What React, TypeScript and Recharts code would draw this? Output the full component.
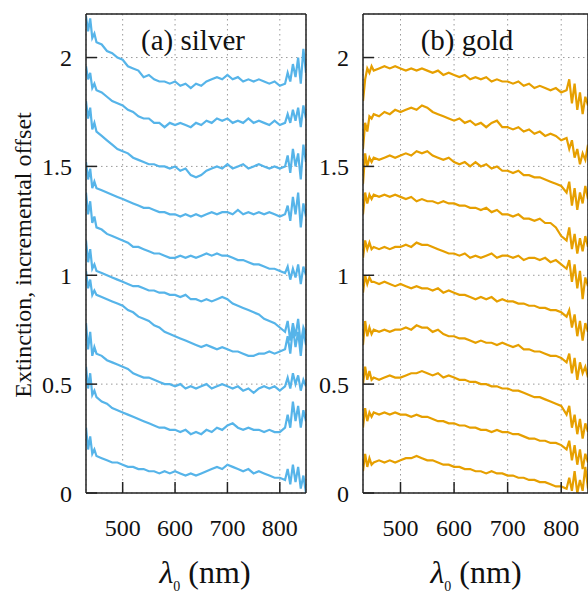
import React from "react";
import { LineChart, Line, XAxis, YAxis, CartesianGrid } from "recharts";

// wavelength samples (nm), denser at the noisy ends of the spectra
const wavelengths = [
  430, 434, 438, 442, 446, 450, 460, 470, 480, 490, 500, 510, 520, 530, 540,
  550, 560, 570, 580, 590, 600, 610, 620, 630, 640, 650, 660, 670, 680, 690,
  700, 710, 720, 730, 740, 750, 760, 770, 780, 790, 800, 810, 815, 820, 825,
  830, 835, 840, 845, 850,
];

const xTicks = [500, 600, 700, 800];
const yTicks = [0, 0.5, 1, 1.5, 2];

// (a) silver, bottom to top
const silver1 = [0.30,0.20,0.26,0.18,0.20, 0.17,0.16,0.15,0.14,0.14, 0.13,0.12,0.12,0.11,0.11, 0.10,0.10,0.09,0.10,0.09, 0.10,0.09,0.08,0.09,0.08, 0.09,0.10,0.11,0.12,0.11, 0.13,0.12,0.11,0.10,0.11, 0.09,0.10,0.09,0.08,0.07, 0.07,0.06, 0.11,0.04,0.13,0.05,0.12,0.02,0.08,0.00];
const silver2 = [0.58,0.48,0.55,0.45,0.47, 0.44,0.42,0.41,0.39,0.38, 0.37,0.36,0.35,0.34,0.33, 0.32,0.31,0.30,0.30,0.29, 0.29,0.28,0.29,0.27,0.28, 0.27,0.29,0.28,0.30,0.29, 0.31,0.32,0.30,0.29,0.30, 0.29,0.29,0.28,0.29,0.28, 0.28,0.30, 0.36,0.30,0.42,0.33,0.40,0.30,0.38,0.33];
const silver3 = [0.78,0.66,0.74,0.63,0.67, 0.64,0.63,0.61,0.60,0.59, 0.58,0.57,0.55,0.54,0.53, 0.53,0.52,0.51,0.50,0.50, 0.49,0.50,0.48,0.49,0.48, 0.49,0.50,0.48,0.49,0.50, 0.49,0.48,0.49,0.47,0.48, 0.46,0.48,0.49,0.48,0.49, 0.47,0.49, 0.53,0.48,0.55,0.50,0.54,0.47,0.52,0.49];
const silver4 = [1.02,0.94,0.98,0.91,0.93, 0.91,0.90,0.89,0.88,0.87, 0.86,0.84,0.83,0.81,0.80, 0.79,0.77,0.76,0.74,0.73, 0.72,0.71,0.70,0.69,0.68, 0.67,0.68,0.67,0.66,0.67, 0.66,0.65,0.65,0.64,0.63, 0.63,0.64,0.64,0.65,0.64, 0.65,0.66, 0.72,0.64,0.76,0.67,0.74,0.63,0.75,0.68];
const silver5 = [1.16,1.06,1.12,1.03,1.05, 1.02,1.01,1.00,0.99,0.98, 0.97,0.96,0.95,0.95,0.94, 0.93,0.93,0.92,0.92,0.91, 0.91,0.90,0.91,0.89,0.89, 0.88,0.89,0.88,0.89,0.90, 0.89,0.87,0.86,0.85,0.84, 0.83,0.82,0.80,0.79,0.78, 0.76,0.74, 0.79,0.70,0.78,0.72,0.80,0.68,0.76,0.73];
const silver6 = [1.38,1.28,1.34,1.24,1.27, 1.22,1.21,1.19,1.18,1.17, 1.16,1.15,1.13,1.13,1.12, 1.11,1.10,1.10,1.09,1.08, 1.08,1.09,1.08,1.09,1.08, 1.09,1.10,1.09,1.10,1.09, 1.09,1.08,1.07,1.07,1.06, 1.05,1.05,1.04,1.03,1.03, 1.02,1.01, 1.04,0.98,1.03,0.99,1.05,0.96,1.04,1.00];
const silver7 = [1.52,1.44,1.49,1.40,1.43, 1.40,1.39,1.38,1.37,1.36, 1.35,1.34,1.33,1.32,1.31, 1.31,1.30,1.29,1.29,1.28, 1.28,1.27,1.28,1.27,1.28, 1.27,1.28,1.29,1.28,1.29, 1.29,1.28,1.30,1.28,1.29, 1.28,1.29,1.28,1.29,1.28, 1.27,1.28, 1.32,1.25,1.36,1.28,1.38,1.22,1.33,1.27];
const silver8 = [1.80,1.72,1.77,1.67,1.70, 1.66,1.64,1.62,1.60,1.58, 1.57,1.56,1.54,1.53,1.52, 1.51,1.51,1.50,1.50,1.49, 1.50,1.48,1.49,1.46,1.45, 1.46,1.48,1.49,1.50,1.49, 1.51,1.49,1.50,1.51,1.49, 1.50,1.51,1.50,1.49,1.50, 1.49,1.50, 1.55,1.47,1.58,1.50,1.56,1.44,1.60,1.52];
const silver9 = [1.96,1.90,1.93,1.86,1.88, 1.85,1.84,1.82,1.80,1.79, 1.78,1.76,1.75,1.73,1.72, 1.72,1.70,1.70,1.68,1.70, 1.69,1.70,1.69,1.68,1.70, 1.69,1.71,1.70,1.72,1.71, 1.72,1.70,1.71,1.70,1.72, 1.70,1.71,1.70,1.69,1.71, 1.69,1.70, 1.74,1.70,1.76,1.71,1.77,1.68,1.78,1.72];
const silver10 = [2.19,2.12,2.18,2.09,2.11, 2.07,2.06,2.03,2.02,2.00, 1.99,1.96,1.95,1.94,1.91, 1.92,1.90,1.89,1.89,1.88, 1.89,1.87,1.88,1.86,1.88, 1.87,1.89,1.90,1.91,1.90, 1.92,1.90,1.91,1.89,1.90, 1.89,1.90,1.89,1.88,1.89, 1.87,1.88, 1.93,1.89,1.97,1.91,2.00,1.88,2.04,1.93];

// (b) gold, bottom to top
const gold1 = [0.10,0.18,0.12,0.16,0.13, 0.14,0.15,0.14,0.15,0.14, 0.15,0.16,0.16,0.17,0.16, 0.15,0.15,0.14,0.13,0.13, 0.12,0.12,0.11,0.11,0.10, 0.10,0.09,0.10,0.09,0.09, 0.08,0.08,0.07,0.07,0.06, 0.06,0.05,0.05,0.04,0.03, 0.03,0.02, 0.07,0.01,0.10,0.00,0.06,0.01,0.12,0.02];
const gold2 = [0.30,0.39,0.33,0.37,0.35, 0.37,0.36,0.37,0.36,0.37, 0.36,0.36,0.35,0.36,0.35, 0.35,0.34,0.33,0.33,0.32, 0.32,0.31,0.31,0.30,0.30, 0.29,0.29,0.28,0.29,0.28, 0.28,0.27,0.27,0.26,0.25, 0.25,0.24,0.24,0.23,0.23, 0.22,0.20, 0.24,0.15,0.22,0.13,0.20,0.11,0.18,0.14];
const gold3 = [0.50,0.58,0.52,0.56,0.52, 0.53,0.52,0.53,0.54,0.53, 0.53,0.54,0.55,0.55,0.56, 0.55,0.54,0.55,0.53,0.54, 0.53,0.52,0.52,0.51,0.51, 0.50,0.50,0.49,0.49,0.48, 0.48,0.47,0.47,0.46,0.45, 0.44,0.44,0.43,0.42,0.41, 0.40,0.36, 0.40,0.30,0.36,0.27,0.34,0.25,0.32,0.28];
const gold4 = [0.68,0.79,0.72,0.76,0.73, 0.75,0.74,0.75,0.74,0.75, 0.75,0.76,0.75,0.77,0.76, 0.76,0.74,0.75,0.73,0.72, 0.72,0.71,0.71,0.70,0.69, 0.70,0.69,0.69,0.68,0.69, 0.68,0.67,0.68,0.66,0.66, 0.65,0.65,0.64,0.63,0.63, 0.62,0.60, 0.64,0.55,0.62,0.52,0.60,0.55,0.58,0.53];
const gold5 = [0.92,1.00,0.96,0.99,0.97, 0.97,0.96,0.97,0.96,0.95, 0.96,0.95,0.94,0.95,0.94, 0.94,0.93,0.94,0.92,0.93, 0.92,0.91,0.91,0.90,0.89, 0.90,0.89,0.90,0.88,0.89, 0.88,0.88,0.87,0.87,0.86, 0.86,0.85,0.85,0.84,0.84, 0.83,0.81, 0.84,0.76,0.82,0.72,0.79,0.70,0.78,0.74];
const gold6 = [1.08,1.16,1.12,1.15,1.12, 1.13,1.12,1.13,1.12,1.13, 1.13,1.14,1.13,1.15,1.14, 1.14,1.13,1.12,1.11,1.10, 1.10,1.09,1.10,1.08,1.09, 1.08,1.09,1.10,1.08,1.09, 1.09,1.08,1.09,1.07,1.08, 1.08,1.07,1.08,1.06,1.07, 1.05,1.03, 1.07,0.97,1.05,0.94,1.02,0.89,0.99,0.95];
const gold7 = [1.28,1.38,1.33,1.37,1.35, 1.37,1.36,1.37,1.36,1.37, 1.36,1.35,1.36,1.34,1.35, 1.34,1.34,1.33,1.34,1.33, 1.33,1.32,1.32,1.31,1.31, 1.30,1.31,1.29,1.30,1.28, 1.28,1.27,1.28,1.26,1.26, 1.25,1.26,1.24,1.24,1.22, 1.18,1.16, 1.22,1.12,1.19,1.10,1.17,1.11,1.18,1.13];
const gold8 = [1.42,1.56,1.50,1.54,1.52, 1.54,1.53,1.54,1.55,1.54, 1.55,1.56,1.55,1.57,1.56, 1.57,1.55,1.54,1.53,1.54, 1.52,1.51,1.52,1.50,1.52, 1.50,1.51,1.49,1.50,1.48, 1.48,1.47,1.48,1.46,1.46, 1.45,1.45,1.44,1.43,1.42, 1.41,1.38, 1.43,1.32,1.40,1.30,1.38,1.33,1.41,1.35];
const gold9 = [1.58,1.70,1.66,1.73,1.72, 1.74,1.73,1.75,1.74,1.76, 1.75,1.76,1.77,1.76,1.78, 1.77,1.75,1.74,1.73,1.72, 1.71,1.72,1.70,1.71,1.69, 1.70,1.68,1.70,1.71,1.68, 1.68,1.67,1.68,1.66,1.67, 1.65,1.66,1.64,1.65,1.64, 1.62,1.63, 1.58,1.62,1.54,1.58,1.51,1.56,1.53,1.60];
const gold10 = [1.80,1.90,1.95,1.93,1.96, 1.94,1.95,1.96,1.95,1.96, 1.95,1.94,1.95,1.94,1.95, 1.94,1.93,1.94,1.92,1.93, 1.92,1.91,1.92,1.90,1.91, 1.90,1.91,1.89,1.90,1.89, 1.89,1.88,1.89,1.87,1.88, 1.86,1.87,1.86,1.85,1.86, 1.84,1.85, 1.90,1.79,1.88,1.76,1.84,1.74,1.82,1.78];

const silverSeries = [silver1, silver2, silver3, silver4, silver5, silver6, silver7, silver8, silver9, silver10];
const goldSeries = [gold1, gold2, gold3, gold4, gold5, gold6, gold7, gold8, gold9, gold10];

const FONT = '"Liberation Serif", "Times New Roman", serif';
const AXIS = { stroke: "#222", strokeWidth: 1.5 };

const buildRows = (series: number[][]) =>
  wavelengths.map((wl, i) => {
    const row: Record<string, number> = { wl };
    series.forEach((s, k) => {
      row[`c${k}`] = s[i];
    });
    return row;
  });

interface PanelProps {
  series: number[][];
  color: string;
  left: number;
  width: number;
  leftAxisWidth: number;
  rightAxisWidth: number;
}

const Panel = ({ series, color, left, width, leftAxisWidth, rightAxisWidth }: PanelProps) => {
  const rows = buildRows(series);
  return (
    <div style={{ position: "absolute", left, top: 0 }}>
      <LineChart
        width={width}
        height={593}
        data={rows}
        margin={{ top: 0, right: 0, bottom: 0, left: 0 }}
      >
        <CartesianGrid stroke="#9a9a9a" strokeDasharray="1.5 3.5" />
        <XAxis
          dataKey="wl"
          type="number"
          domain={[430, 850]}
          ticks={xTicks}
          allowDataOverflow
          height={100}
          tickSize={-11}
          tickMargin={37}
          axisLine={AXIS}
          tickLine={AXIS}
          tick={{ fill: "#111", fontSize: 24, fontFamily: FONT }}
        />
        <XAxis
          xAxisId="top"
          orientation="top"
          dataKey="wl"
          type="number"
          domain={[430, 850]}
          ticks={xTicks}
          allowDataOverflow
          height={14}
          tickSize={-11}
          axisLine={AXIS}
          tickLine={AXIS}
          tick={false}
        />
        <YAxis
          type="number"
          domain={[0, 2.2]}
          ticks={yTicks}
          allowDataOverflow
          width={leftAxisWidth}
          tickSize={-11}
          tickMargin={25}
          axisLine={AXIS}
          tickLine={AXIS}
          tick={{ fill: "#111", fontSize: 24, fontFamily: FONT }}
        />
        <YAxis
          yAxisId="right"
          orientation="right"
          type="number"
          domain={[0, 2.2]}
          ticks={yTicks}
          allowDataOverflow
          width={rightAxisWidth}
          tickSize={-11}
          axisLine={AXIS}
          tickLine={AXIS}
          tick={false}
        />
        {series.map((_, k) => (
          <Line
            key={`c${k}`}
            dataKey={`c${k}`}
            type="linear"
            stroke={color}
            strokeWidth={2.2}
            dot={false}
            isAnimationActive={false}
          />
        ))}
      </LineChart>
    </div>
  );
};

const XLabel = ({ x }: { x: number }) => (
  <text x={x} y={583} textAnchor="middle" fontSize={32} fontFamily={FONT} fill="#111">
    <tspan fontStyle="italic">λ</tspan>
    <tspan fontSize={14} dy={8}>0</tspan>
    <tspan dy={-8}> (nm)</tspan>
  </text>
);

export default function App() {
  return (
    <div
      style={{
        position: "absolute",
        left: 0,
        top: 0,
        width: 588,
        height: 593,
        overflow: "hidden",
        background: "#fff",
      }}
    >
      <Panel series={silverSeries} color="#56B4E9" left={0} width={330} leftAxisWidth={86} rightAxisWidth={24} />
      <Panel series={goldSeries} color="#E69F00" left={288} width={310} leftAxisWidth={75} rightAxisWidth={10} />
      <svg
        width={588}
        height={593}
        style={{ position: "absolute", left: 0, top: 0, pointerEvents: "none" }}
      >
        <text x={193} y={50} textAnchor="middle" fontSize={29} fontFamily={FONT} fill="#111">
          (a) silver
        </text>
        <text x={467} y={50} textAnchor="middle" fontSize={29} fontFamily={FONT} fill="#111">
          (b) gold
        </text>
        <text
          transform="translate(31, 255) rotate(-90)"
          textAnchor="middle"
          fontSize={24}
          fontFamily={FONT}
          fill="#111"
        >
          Extinction, incremental offset
        </text>
        <XLabel x={205} />
        <XLabel x={476} />
      </svg>
    </div>
  );
}
